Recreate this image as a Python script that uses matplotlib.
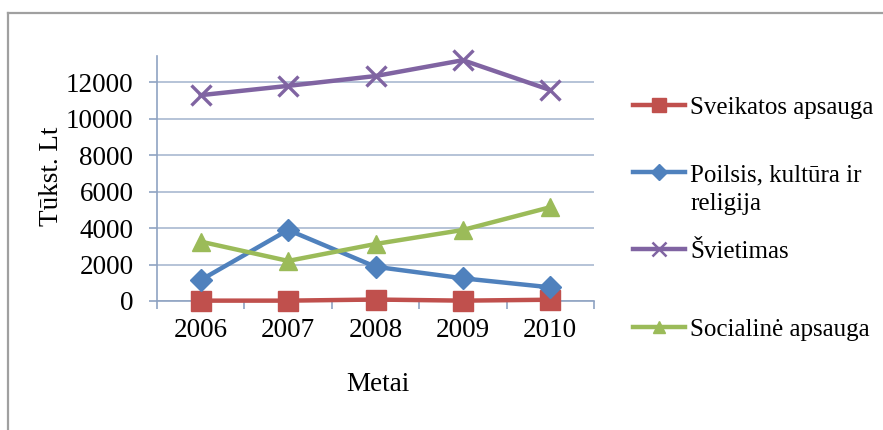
import matplotlib.pyplot as plt
from matplotlib.lines import Line2D
from matplotlib.ticker import MultipleLocator, FixedLocator

plt.rcParams['font.family'] = ['Liberation Serif', 'DejaVu Serif']

years = ['2006', '2007', '2008', '2009', '2010']
sveikatos = [20, 20, 80, 20, 70]
poilsis = [1150, 3900, 1880, 1245, 750]
svietimas = [11300, 11810, 12350, 13220, 11580]
socialine = [3260, 2200, 3130, 3900, 5150]

labels = ['Sveikatos apsauga', 'Poilsis, kultūra ir\nreligija', 'Švietimas', 'Socialinė apsauga']
colors = ['#C0504D', '#4F81BD', '#8064A2', '#9BBB59']
markers = ['s', 'D', 'x', '^']
msizes = [15, 11, 14, 13]
series = [sveikatos, poilsis, svietimas, socialine]

fig = plt.figure(figsize=(8.83, 4.30), dpi=100)
ax = fig.add_axes([157 / 883, 1 - 301 / 430, 437 / 883, 245 / 430])

x = list(range(len(years)))
for i, (vals, c, m, ms) in enumerate(zip(series, colors, markers, msizes)):
    ax.plot(x, vals, color=c, lw=3.2, marker=m, ms=ms, mew=2.4 if m == 'x' else 1,
            mec=c, mfc=c, zorder=3 + i, solid_joinstyle='round', clip_on=False)

ax.set_xlim(-0.5, 4.5)
ax.set_ylim(0, 13450)
ax.yaxis.set_major_locator(MultipleLocator(2000))
ax.set_xticks(x)
ax.set_xticklabels(years)
ax.xaxis.set_minor_locator(FixedLocator([i - 0.5 for i in range(len(years) + 1)]))

axis_col = '#8FA3C2'
grid_col = '#A9B9D1'
ax.grid(axis='y', color=grid_col, lw=1.2, zorder=0)
for s in ['top', 'right']:
    ax.spines[s].set_visible(False)
for s in ['left', 'bottom']:
    ax.spines[s].set_color(axis_col)
    ax.spines[s].set_linewidth(1.2)

ax.tick_params(axis='y', length=6, width=1.2, color=axis_col, pad=11, labelsize=19.5)
ax.tick_params(axis='x', which='major', length=0, pad=12, labelsize=19.5)
ax.tick_params(axis='x', which='minor', length=6, width=1.2, color=axis_col)

ax.set_xlabel('Metai', fontsize=19.5, va='center')
ax.xaxis.set_label_coords((378 - 157) / 437, (301 - 385) / 245)
ax.set_ylabel('Tūkst. Lt', fontsize=19.5, va='center')
ax.yaxis.set_label_coords((52 - 157) / 437, (301 - 176) / 245)

# legend entries on the right, laid out by hand
leg_y = [105, 172, 249, 327]
leg_ms = [10, 8, 10, 9]
W, H = 883, 430
for lab, c, m, ms, y in zip(labels, colors, markers, leg_ms, leg_y):
    yy = 1 - y / H
    fig.add_artist(Line2D([633 / W, 685 / W], [yy, yy], color=c, lw=3.2,
                          transform=fig.transFigure))
    fig.add_artist(Line2D([659 / W], [yy], color=c, marker=m, ms=ms,
                          mew=1.8 if m == 'x' else 1, mec=c, mfc=c,
                          transform=fig.transFigure))
    fig.text(690 / W, yy + 0.018, lab, fontsize=18, va='top', ha='left',
             linespacing=1.4)

# frame lines along the top and left edge
fig.add_artist(Line2D([8 / W, 1], [1 - 12.7 / H, 1 - 12.7 / H], color='#A0A0A0',
                      lw=1.6, transform=fig.transFigure))
fig.add_artist(Line2D([8 / W, 8 / W], [0, 1 - 12.7 / H], color='#A0A0A0',
                      lw=1.6, transform=fig.transFigure))

fig.savefig('out.png', dpi=100)
